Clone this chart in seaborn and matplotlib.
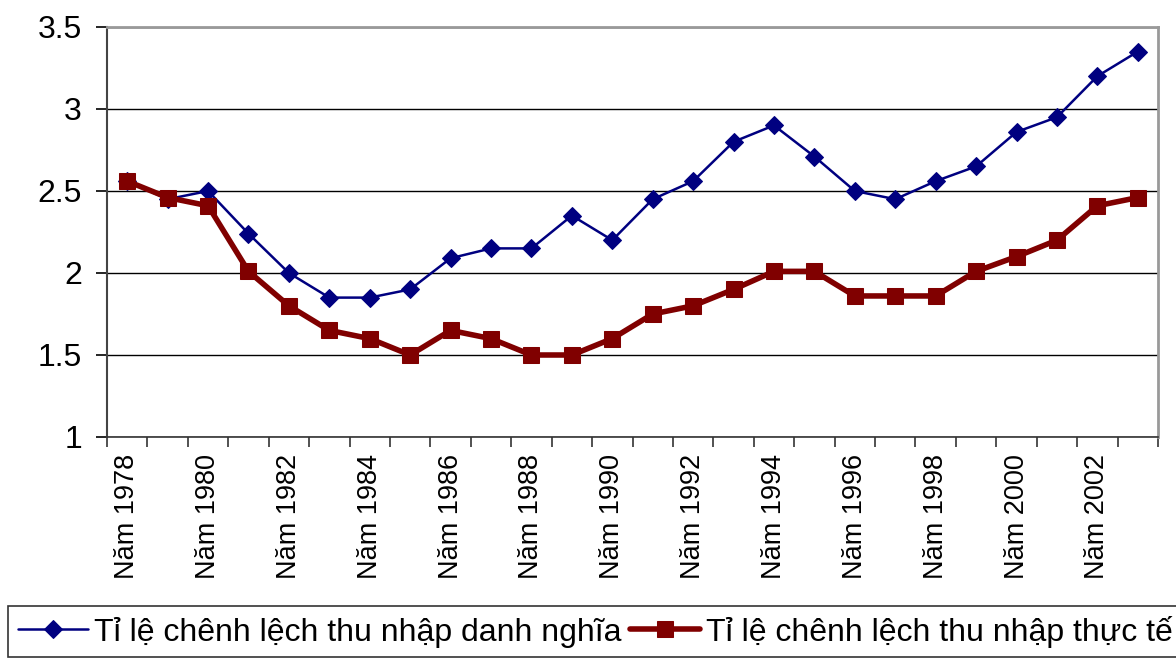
import numpy as np
import pandas as pd
import matplotlib
matplotlib.use("Agg")
import matplotlib.pyplot as plt
import matplotlib.ticker as ticker
import seaborn as sns

years = list(range(1978, 2004))
danh_nghia = [2.56, 2.45, 2.50, 2.24, 2.00, 1.85, 1.85, 1.90, 2.09, 2.15, 2.15, 2.35, 2.20,
              2.45, 2.56, 2.80, 2.90, 2.71, 2.50, 2.45, 2.56, 2.65, 2.86, 2.95, 3.20, 3.35]
thuc_te = [2.56, 2.46, 2.41, 2.01, 1.80, 1.65, 1.60, 1.50, 1.65, 1.60, 1.50, 1.50, 1.60,
           1.75, 1.80, 1.90, 2.01, 2.01, 1.86, 1.86, 1.86, 2.01, 2.10, 2.20, 2.41, 2.46]
label_dn = "Tỉ lệ chênh lệch thu nhập danh nghĩa"
label_tt = "Tỉ lệ chênh lệch thu nhập thực tế"

df = pd.DataFrame({"idx": np.arange(len(years)), "year": years,
                   "dn": danh_nghia, "tt": thuc_te})

sns.set_style("white")
plt.rcParams["font.family"] = ["Liberation Sans", "DejaVu Sans"]
plt.rcParams["text.color"] = "black"
plt.rcParams["xtick.color"] = "black"
plt.rcParams["ytick.color"] = "black"
plt.rcParams["xtick.labelcolor"] = "black"
plt.rcParams["ytick.labelcolor"] = "black"

fig = plt.figure(figsize=(11.76, 6.6), dpi=100)
ax = fig.add_axes([107 / 1176, 1 - 437 / 660, 1051 / 1176, 410 / 660])

sns.lineplot(data=df, x="idx", y="dn", ax=ax, color="#000080", linewidth=1.8,
             marker="D", markersize=9.5, markeredgecolor="#000080", label=label_dn)
sns.lineplot(data=df, x="idx", y="tt", ax=ax, color="#800000", linewidth=4,
             marker="s", markersize=11.5, markeredgecolor="#800000", label=label_tt)

ax.set_xlim(-0.5, len(years) - 0.5)
ax.set_ylim(1, 3.5)
ax.set_yticks([1, 1.5, 2, 2.5, 3, 3.5])
ax.set_yticklabels(["1", "1.5", "2", "2.5", "3", "3.5"])
ax.yaxis.grid(True, color="black", linewidth=1)
ax.set_axisbelow(True)

# labels every other year at category centres, tick marks at category boundaries
ax.set_xticks(df["idx"][::2])
ax.set_xticklabels([f"Năm {y}" for y in years[::2]], rotation=90, ha="center", va="top")
ax.xaxis.set_minor_locator(ticker.FixedLocator(np.arange(-0.5, len(years), 1)))
ax.tick_params(axis="x", which="major", length=0, pad=12, labelsize=19.5, labelcolor="black")
ax.tick_params(axis="x", which="minor", length=7, width=1.2, color="#333333", bottom=True)
ax.tick_params(axis="y", length=8, width=1.2, color="black", pad=10, labelsize=23,
               left=True, labelcolor="black")

ax.set_xlabel("")
ax.set_ylabel("")
for side in ["top", "right"]:
    ax.spines[side].set_color("#999999")
    ax.spines[side].set_linewidth(2)
ax.spines["left"].set_color("#444444")
ax.spines["left"].set_linewidth(1.5)
ax.spines["bottom"].set_color("#333333")
ax.spines["bottom"].set_linewidth(1.2)

ax.get_legend().remove()
handles, labels = ax.get_legend_handles_labels()
leg = fig.legend(handles, labels, loc="upper left", bbox_to_anchor=(8 / 1176, 1 - 606 / 660),
                 ncol=2, fontsize=23, frameon=True, fancybox=False, edgecolor="black",
                 handlelength=2.2, handletextpad=0.2, columnspacing=0.25,
                 borderpad=0.3, borderaxespad=0, labelcolor="black")
leg.get_frame().set_linewidth(1.2)

fig.savefig("out.png", dpi=100)
